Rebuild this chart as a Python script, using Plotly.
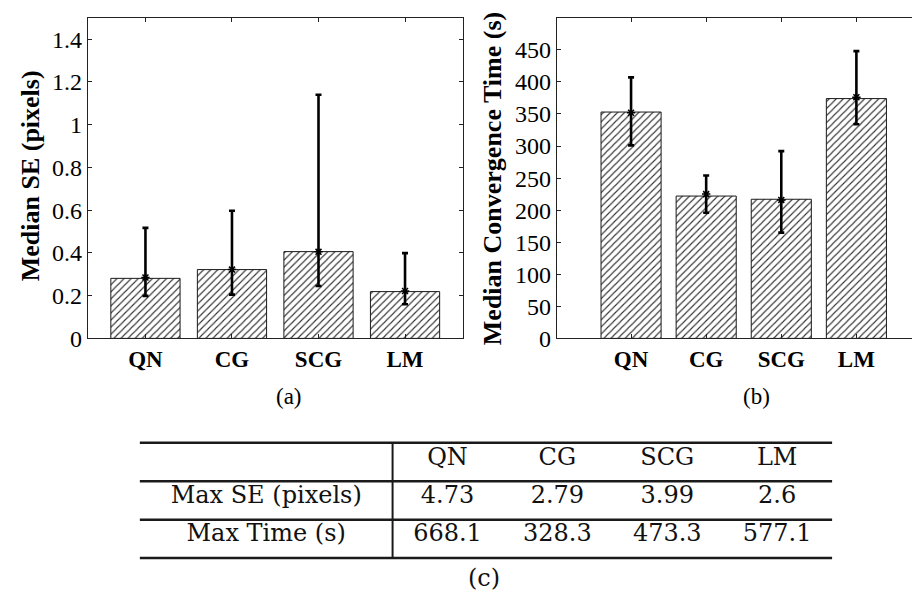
import plotly.graph_objects as go

# ---------------- data ----------------
methods = ["QN", "CG", "SCG", "LM"]

# (a) Median SE (pixels)
se_median = [0.281, 0.322, 0.406, 0.219]
se_point = [0.285, 0.322, 0.405, 0.222]
se_upper = [0.517, 0.597, 1.14, 0.399]
se_lower = [0.199, 0.205, 0.245, 0.160]
se_ticks = [0, 0.2, 0.4, 0.6, 0.8, 1.0, 1.2, 1.4]

# (b) Median convergence time (s)
time_median = [353, 222, 217, 374]
time_point = [352, 225, 216, 376]
time_upper = [407, 254, 292, 448]
time_lower = [301, 196, 165, 334]
time_ticks = [0, 50, 100, 150, 200, 250, 300, 350, 400, 450]

# (c) table
table_rows = ["Max SE (pixels)", "Max Time (s)"]
max_se = [4.73, 2.79, 3.99, 2.6]
max_time = [668.1, 328.3, 473.3, 577.1]

# ---------------- styling ----------------
W, H = 920, 602
SERIF = "'Liberation Serif', 'Times New Roman', Times, serif"
TSERIF = "'DejaVu Serif', 'Liberation Serif', serif"
AX = "#222222"

def px_x(p):
    return p / W

def px_y(p):
    return (H - p) / H

fig = go.Figure()

pattern = dict(shape="/", size=5, solidity=0.22, fgcolor="#333333",
               bgcolor="white", fillmode="replace")

def add_panel(xa, ya, med, pt, up, lo):
    fig.add_trace(go.Bar(
        x=methods, y=med, width=0.8, xaxis=xa, yaxis=ya,
        marker=dict(color="white", line=dict(color="#1a1a1a", width=1),
                    pattern=pattern),
        hoverinfo="skip", showlegend=False))
    fig.add_trace(go.Scatter(
        x=methods, y=pt, mode="markers", xaxis=xa, yaxis=ya,
        marker=dict(symbol="asterisk-open", size=7, color="black",
                    line=dict(width=1.5, color="black")),
        error_y=dict(type="data", symmetric=False,
                     array=[u - m for u, m in zip(up, pt)],
                     arrayminus=[m - l for m, l in zip(pt, lo)],
                     thickness=2.6, width=3, color="black"),
        hoverinfo="skip", showlegend=False))

add_panel("x", "y", se_median, se_point, se_upper, se_lower)
add_panel("x2", "y2", time_median, time_point, time_upper, time_lower)

# table cells as text on an invisible axis pair
col_x = [0.5, 1.5, 2.5, 3.5]
label_x = -1.15
tx, ty, tt = [], [], []
for c, name in zip(col_x, methods):
    tx.append(c); ty.append(2); tt.append(name)
for r, (lab, vals) in zip([1, 0], zip(table_rows, [max_se, max_time])):
    tx.append(label_x); ty.append(r); tt.append(lab)
    for c, v in zip(col_x, vals):
        tx.append(c); ty.append(r); tt.append(str(v))
fig.add_trace(go.Scatter(
    x=tx, y=ty, text=tt, mode="text", xaxis="x3", yaxis="y3",
    textposition="middle center",
    textfont=dict(family=TSERIF, size=24, color="#111111"),
    hoverinfo="skip", showlegend=False))

common_axis = dict(showline=True, linecolor=AX, linewidth=1, mirror="ticks",
                   ticks="inside", ticklen=4, tickcolor=AX, tickwidth=1,
                   showgrid=False, zeroline=False)

ydom = [px_y(337.7), px_y(10)]

fig.update_layout(
    width=W, height=H, margin=dict(l=0, r=0, t=0, b=0),
    paper_bgcolor="white", plot_bgcolor="white",
    showlegend=False,
    font=dict(family=SERIF, color="black"),
    xaxis=dict(domain=[px_x(80), px_x(455.5)], anchor="y", type="category",
               range=[-0.665, 3.67],
               tickfont=dict(family=SERIF, size=23, color="black", weight="bold"),
               **common_axis),
    yaxis=dict(domain=ydom, anchor="x", range=[0, 1.5], tickvals=se_ticks,
               tickfont=dict(family=SERIF, size=24, color="black"),
               **common_axis),
    xaxis2=dict(domain=[px_x(549.3), 1.0], anchor="y2", type="category",
                range=[-0.99, 3.94],
                tickfont=dict(family=SERIF, size=23, color="black", weight="bold"),
                **common_axis),
    yaxis2=dict(domain=ydom, anchor="x2", range=[0, 500], tickvals=time_ticks,
                tickfont=dict(family=SERIF, size=24, color="black"),
                **common_axis),
    xaxis3=dict(domain=[px_x(121), px_x(836)], anchor="y3", range=[-2.4, 4.1],
                visible=False, fixedrange=True),
    yaxis3=dict(domain=[px_y(566.3), px_y(439.55)], anchor="x3",
                range=[-0.7, 2.55], visible=False, fixedrange=True),
)

# table rules
rule = dict(color="#1a1a1a", width=2.5)
for yb in [2.43, 1.42, 0.41, -0.59]:
    fig.add_shape(type="line", xref="x3", yref="y3", x0=-2.3, x1=4.0,
                  y0=yb, y1=yb, line=rule)
fig.add_shape(type="line", xref="x3", yref="y3", x0=0, x1=0,
              y0=-0.59, y1=2.43, line=dict(color="#1a1a1a", width=2))

# axis titles and panel labels
fig.add_annotation(text="<b>Median SE (pixels)</b>", textangle=-90,
                   x=px_x(22), y=px_y(171), xref="paper", yref="paper",
                   xanchor="center", yanchor="middle", showarrow=False,
                   font=dict(family=SERIF, size=26, color="black"))
fig.add_annotation(text="<b>Median Convergence Time (s)</b>", textangle=-90,
                   x=px_x(485), y=px_y(174.5), xref="paper", yref="paper",
                   xanchor="center", yanchor="middle", showarrow=False,
                   font=dict(family=SERIF, size=26, color="black"))
fig.add_annotation(text="(a)", x=px_x(281), y=px_y(397), xref="paper", yref="paper",
                   xanchor="center", yanchor="middle", showarrow=False,
                   font=dict(family=SERIF, size=23, color="black"))
fig.add_annotation(text="(b)", x=px_x(749), y=px_y(397), xref="paper", yref="paper",
                   xanchor="center", yanchor="middle", showarrow=False,
                   font=dict(family=SERIF, size=23, color="black"))
fig.add_annotation(text="(c)", x=px_x(477), y=px_y(583), xref="paper", yref="paper",
                   xanchor="center", yanchor="middle", showarrow=False,
                   font=dict(family=TSERIF, size=24, color="#111111"))

fig.write_html("out.html")
